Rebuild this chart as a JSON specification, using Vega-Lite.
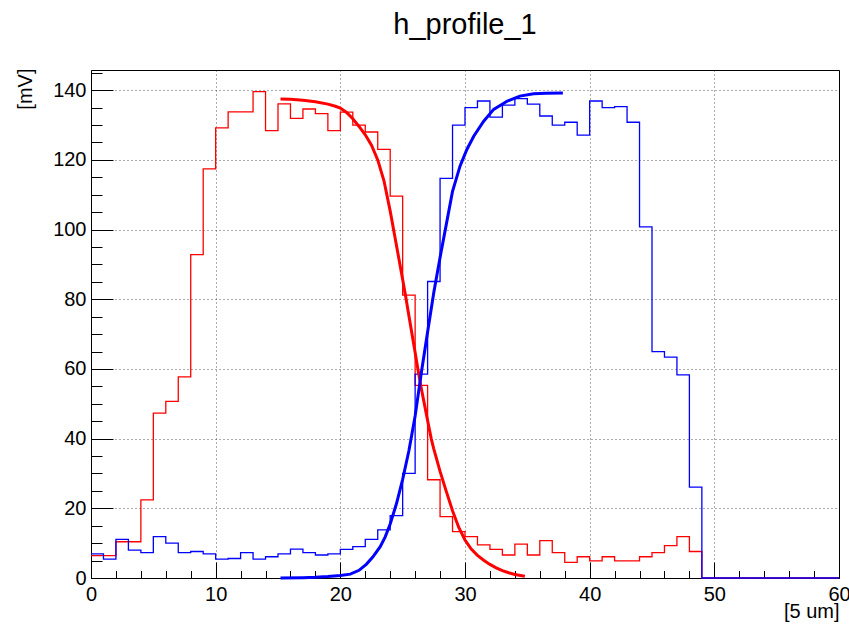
{
  "$schema": "https://vega.github.io/schema/vega-lite/v6.json",
  "autosize": {"type": "none"},
  "padding": {"left": 91, "top": 70, "right": 10, "bottom": 48},
  "width": 748,
  "height": 508,
  "background": "white",
  "title": {
    "text": "h_profile_1",
    "font": "Liberation Sans",
    "fontSize": 29,
    "fontWeight": "normal",
    "color": "#000",
    "anchor": "middle",
    "baseline": "alphabetic",
    "offset": 5
  },
  "config": {
    "font": "Liberation Sans",
    "view": {"stroke": "#000", "strokeWidth": 1},
    "axis": {
      "labelFont": "Liberation Sans",
      "titleFont": "Liberation Sans",
      "labelColor": "#000",
      "titleColor": "#000",
      "tickColor": "#000",
      "tickWidth": 1,
      "domain": false,
      "labelOverlap": false,
      "labelBound": false
    }
  },
  "datasets": {
    "hist": [
      {"series": "falling", "x": 0, "mV": 6.4}, {"series": "falling", "x": 1, "mV": 6.4},
      {"series": "falling", "x": 2, "mV": 10.4}, {"series": "falling", "x": 3, "mV": 10.4},
      {"series": "falling", "x": 4, "mV": 22.4}, {"series": "falling", "x": 5, "mV": 47.3},
      {"series": "falling", "x": 6, "mV": 50.7}, {"series": "falling", "x": 7, "mV": 57.7},
      {"series": "falling", "x": 8, "mV": 92.8}, {"series": "falling", "x": 9, "mV": 117.4},
      {"series": "falling", "x": 10, "mV": 129.2}, {"series": "falling", "x": 11, "mV": 133.8},
      {"series": "falling", "x": 12, "mV": 133.8}, {"series": "falling", "x": 13, "mV": 139.6},
      {"series": "falling", "x": 14, "mV": 128.4}, {"series": "falling", "x": 15, "mV": 136.1},
      {"series": "falling", "x": 16, "mV": 131.9}, {"series": "falling", "x": 17, "mV": 134.6},
      {"series": "falling", "x": 18, "mV": 133.3}, {"series": "falling", "x": 19, "mV": 128.4},
      {"series": "falling", "x": 20, "mV": 133.7}, {"series": "falling", "x": 21, "mV": 130.0},
      {"series": "falling", "x": 22, "mV": 128.0}, {"series": "falling", "x": 23, "mV": 123.0},
      {"series": "falling", "x": 24, "mV": 109.6}, {"series": "falling", "x": 25, "mV": 81.2},
      {"series": "falling", "x": 26, "mV": 55.3}, {"series": "falling", "x": 27, "mV": 28.2},
      {"series": "falling", "x": 28, "mV": 17.6}, {"series": "falling", "x": 29, "mV": 13.3},
      {"series": "falling", "x": 30, "mV": 11.9}, {"series": "falling", "x": 31, "mV": 9.5},
      {"series": "falling", "x": 32, "mV": 8.2}, {"series": "falling", "x": 33, "mV": 6.6},
      {"series": "falling", "x": 34, "mV": 9.7}, {"series": "falling", "x": 35, "mV": 6.6},
      {"series": "falling", "x": 36, "mV": 10.7}, {"series": "falling", "x": 37, "mV": 7.3},
      {"series": "falling", "x": 38, "mV": 4.5}, {"series": "falling", "x": 39, "mV": 6.1},
      {"series": "falling", "x": 40, "mV": 4.9}, {"series": "falling", "x": 41, "mV": 6.1},
      {"series": "falling", "x": 42, "mV": 4.9}, {"series": "falling", "x": 43, "mV": 4.9},
      {"series": "falling", "x": 44, "mV": 6.1}, {"series": "falling", "x": 45, "mV": 7.3},
      {"series": "falling", "x": 46, "mV": 9.3}, {"series": "falling", "x": 47, "mV": 11.9},
      {"series": "falling", "x": 48, "mV": 7.6}, {"series": "falling", "x": 49, "mV": 0},
      {"series": "falling", "x": 50, "mV": 0}, {"series": "falling", "x": 51, "mV": 0},
      {"series": "falling", "x": 52, "mV": 0}, {"series": "falling", "x": 53, "mV": 0},
      {"series": "falling", "x": 54, "mV": 0}, {"series": "falling", "x": 55, "mV": 0},
      {"series": "falling", "x": 56, "mV": 0}, {"series": "falling", "x": 57, "mV": 0},
      {"series": "falling", "x": 58, "mV": 0}, {"series": "falling", "x": 59, "mV": 0},
      {"series": "falling", "x": 60, "mV": 0},
      {"series": "rising", "x": 0, "mV": 6.9}, {"series": "rising", "x": 1, "mV": 5.4},
      {"series": "rising", "x": 2, "mV": 11.1}, {"series": "rising", "x": 3, "mV": 8.0},
      {"series": "rising", "x": 4, "mV": 7.3}, {"series": "rising", "x": 5, "mV": 11.9},
      {"series": "rising", "x": 6, "mV": 10.0}, {"series": "rising", "x": 7, "mV": 7.3},
      {"series": "rising", "x": 8, "mV": 7.6}, {"series": "rising", "x": 9, "mV": 6.9},
      {"series": "rising", "x": 10, "mV": 5.4}, {"series": "rising", "x": 11, "mV": 5.6},
      {"series": "rising", "x": 12, "mV": 7.3}, {"series": "rising", "x": 13, "mV": 5.4},
      {"series": "rising", "x": 14, "mV": 6.1}, {"series": "rising", "x": 15, "mV": 6.9},
      {"series": "rising", "x": 16, "mV": 8.3}, {"series": "rising", "x": 17, "mV": 7.3},
      {"series": "rising", "x": 18, "mV": 6.6}, {"series": "rising", "x": 19, "mV": 6.9},
      {"series": "rising", "x": 20, "mV": 8.2}, {"series": "rising", "x": 21, "mV": 9.0},
      {"series": "rising", "x": 22, "mV": 11.1}, {"series": "rising", "x": 23, "mV": 13.8},
      {"series": "rising", "x": 24, "mV": 17.9}, {"series": "rising", "x": 25, "mV": 30.0},
      {"series": "rising", "x": 26, "mV": 58.5}, {"series": "rising", "x": 27, "mV": 85.1},
      {"series": "rising", "x": 28, "mV": 114.7}, {"series": "rising", "x": 29, "mV": 130.0},
      {"series": "rising", "x": 30, "mV": 135.0}, {"series": "rising", "x": 31, "mV": 136.9},
      {"series": "rising", "x": 32, "mV": 132.3}, {"series": "rising", "x": 33, "mV": 135.7},
      {"series": "rising", "x": 34, "mV": 137.6}, {"series": "rising", "x": 35, "mV": 136.0},
      {"series": "rising", "x": 36, "mV": 132.6}, {"series": "rising", "x": 37, "mV": 130.0},
      {"series": "rising", "x": 38, "mV": 130.8}, {"series": "rising", "x": 39, "mV": 127.1},
      {"series": "rising", "x": 40, "mV": 136.9}, {"series": "rising", "x": 41, "mV": 135.0},
      {"series": "rising", "x": 42, "mV": 135.3}, {"series": "rising", "x": 43, "mV": 130.8},
      {"series": "rising", "x": 44, "mV": 100.8}, {"series": "rising", "x": 45, "mV": 65.0},
      {"series": "rising", "x": 46, "mV": 63.4}, {"series": "rising", "x": 47, "mV": 58.3},
      {"series": "rising", "x": 48, "mV": 26.1}, {"series": "rising", "x": 49, "mV": 0},
      {"series": "rising", "x": 50, "mV": 0}, {"series": "rising", "x": 51, "mV": 0},
      {"series": "rising", "x": 52, "mV": 0}, {"series": "rising", "x": 53, "mV": 0},
      {"series": "rising", "x": 54, "mV": 0}, {"series": "rising", "x": 55, "mV": 0},
      {"series": "rising", "x": 56, "mV": 0}, {"series": "rising", "x": 57, "mV": 0},
      {"series": "rising", "x": 58, "mV": 0}, {"series": "rising", "x": 59, "mV": 0},
      {"series": "rising", "x": 60, "mV": 0}
    ],
    "fit": [
      {"series": "falling", "x": 15.2, "mV": 137.5}, {"series": "falling", "x": 16.0, "mV": 137.4},
      {"series": "falling", "x": 17.0, "mV": 137.1}, {"series": "falling", "x": 18.0, "mV": 136.7},
      {"series": "falling", "x": 19.0, "mV": 136.0}, {"series": "falling", "x": 19.6, "mV": 135.4},
      {"series": "falling", "x": 20.0, "mV": 134.9}, {"series": "falling", "x": 20.5, "mV": 133.6},
      {"series": "falling", "x": 21.0, "mV": 131.8}, {"series": "falling", "x": 21.5, "mV": 129.6},
      {"series": "falling", "x": 22.0, "mV": 127.2}, {"series": "falling", "x": 22.5, "mV": 124.2},
      {"series": "falling", "x": 23.0, "mV": 120.0}, {"series": "falling", "x": 23.5, "mV": 114.0},
      {"series": "falling", "x": 24.0, "mV": 105.3}, {"series": "falling", "x": 24.27, "mV": 100.0},
      {"series": "falling", "x": 24.5, "mV": 95.5}, {"series": "falling", "x": 25.0, "mV": 85.7},
      {"series": "falling", "x": 25.28, "mV": 80.0}, {"series": "falling", "x": 25.5, "mV": 75.3},
      {"series": "falling", "x": 26.0, "mV": 64.7}, {"series": "falling", "x": 26.22, "mV": 60.0},
      {"series": "falling", "x": 26.5, "mV": 54.3}, {"series": "falling", "x": 27.0, "mV": 45.2},
      {"series": "falling", "x": 27.29, "mV": 40.0}, {"series": "falling", "x": 27.5, "mV": 37.0},
      {"series": "falling", "x": 28.0, "mV": 30.6}, {"series": "falling", "x": 28.46, "mV": 25.3},
      {"series": "falling", "x": 29.0, "mV": 19.3}, {"series": "falling", "x": 29.5, "mV": 14.5},
      {"series": "falling", "x": 30.0, "mV": 10.9}, {"series": "falling", "x": 30.5, "mV": 8.3},
      {"series": "falling", "x": 31.0, "mV": 6.5}, {"series": "falling", "x": 31.5, "mV": 5.1},
      {"series": "falling", "x": 32.0, "mV": 3.9}, {"series": "falling", "x": 32.5, "mV": 2.9},
      {"series": "falling", "x": 33.0, "mV": 2.1}, {"series": "falling", "x": 33.5, "mV": 1.5},
      {"series": "falling", "x": 34.0, "mV": 1.0}, {"series": "falling", "x": 34.8, "mV": 0.5},
      {"series": "rising", "x": 15.2, "mV": 0.0}, {"series": "rising", "x": 17.0, "mV": 0.1},
      {"series": "rising", "x": 18.0, "mV": 0.2}, {"series": "rising", "x": 19.0, "mV": 0.4},
      {"series": "rising", "x": 20.0, "mV": 0.7}, {"series": "rising", "x": 20.8, "mV": 1.1},
      {"series": "rising", "x": 21.5, "mV": 2.2}, {"series": "rising", "x": 22.1, "mV": 4.0},
      {"series": "rising", "x": 22.6, "mV": 6.0}, {"series": "rising", "x": 23.2, "mV": 9.0},
      {"series": "rising", "x": 23.6, "mV": 11.8}, {"series": "rising", "x": 24.0, "mV": 15.5},
      {"series": "rising", "x": 24.5, "mV": 21.3}, {"series": "rising", "x": 25.0, "mV": 28.3},
      {"series": "rising", "x": 25.5, "mV": 36.5}, {"series": "rising", "x": 26.0, "mV": 46.5},
      {"series": "rising", "x": 26.5, "mV": 59.0}, {"series": "rising", "x": 27.0, "mV": 70.6},
      {"series": "rising", "x": 27.5, "mV": 82.0}, {"series": "rising", "x": 28.0, "mV": 92.0},
      {"series": "rising", "x": 28.5, "mV": 101.5}, {"series": "rising", "x": 29.0, "mV": 111.0},
      {"series": "rising", "x": 29.6, "mV": 118.2}, {"series": "rising", "x": 30.15, "mV": 123.0},
      {"series": "rising", "x": 30.7, "mV": 126.8}, {"series": "rising", "x": 31.5, "mV": 131.1},
      {"series": "rising", "x": 32.3, "mV": 134.5}, {"series": "rising", "x": 33.4, "mV": 136.9},
      {"series": "rising", "x": 34.4, "mV": 138.3}, {"series": "rising", "x": 35.5, "mV": 139.0},
      {"series": "rising", "x": 36.5, "mV": 139.1}, {"series": "rising", "x": 37.85, "mV": 139.2}
    ]
  },
  "layer": [
    {
      "data": {"name": "hist"},
      "mark": {"type": "line", "interpolate": "step-after", "strokeWidth": 1.3, "strokeJoin": "miter"},
      "encoding": {
        "x": {
          "field": "x", "type": "quantitative",
          "scale": {"domain": [0, 60], "nice": false, "zero": false},
          "axis": {
            "orient": "bottom",
            "values": [0, 10, 20, 30, 40, 50, 60],
            "format": "d",
            "tickSize": -16,
            "grid": true, "gridColor": "#000", "gridDash": [1, 3], "gridOpacity": 0.65, "gridWidth": 1,
            "labelFontSize": 20, "labelPadding": 22, "labelFlush": false,
            "title": "[5 um]", "titleFontSize": 20, "titleFontWeight": "normal",
            "titleAnchor": "end", "titleAlign": "right", "titleBaseline": "alphabetic",
            "titleX": 748, "titleY": 39
          }
        },
        "y": {
          "field": "mV", "type": "quantitative",
          "scale": {"domain": [0, 145.8], "nice": false, "zero": false},
          "axis": {
            "orient": "left",
            "values": [0, 20, 40, 60, 80, 100, 120, 140],
            "format": "d",
            "tickSize": -22,
            "grid": true, "gridColor": "#000", "gridDash": [1, 3], "gridOpacity": 0.65, "gridWidth": 1,
            "labelFontSize": 20, "labelPadding": 27,
            "title": "[mV]", "titleFontSize": 20, "titleFontWeight": "normal",
            "titleAngle": -90, "titleAlign": "right", "titleBaseline": "middle",
            "titleX": -66, "titleY": -2
          }
        },
        "color": {
          "field": "series", "type": "nominal",
          "scale": {"domain": ["falling", "rising"], "range": ["#ff0000", "#0000ff"]},
          "legend": null
        }
      }
    },
    {
      "data": {"name": "fit"},
      "mark": {"type": "line", "strokeWidth": 3},
      "encoding": {
        "x": {
          "field": "x", "type": "quantitative",
          "axis": {
            "orient": "bottom",
            "values": [0, 2, 4, 6, 8, 10, 12, 14, 16, 18, 20, 22, 24, 26, 28, 30, 32, 34, 36, 38, 40, 42, 44, 46, 48, 50, 52, 54, 56, 58, 60],
            "tickSize": -7.5, "labels": false, "grid": false, "title": null
          }
        },
        "y": {
          "field": "mV", "type": "quantitative",
          "axis": {
            "orient": "left",
            "values": [0, 5, 10, 15, 20, 25, 30, 35, 40, 45, 50, 55, 60, 65, 70, 75, 80, 85, 90, 95, 100, 105, 110, 115, 120, 125, 130, 135, 140, 145],
            "tickSize": -11, "labels": false, "grid": false, "title": null
          }
        },
        "color": {"field": "series", "type": "nominal", "legend": null}
      }
    }
  ],
  "resolve": {"axis": {"x": "independent", "y": "independent"}}
}
